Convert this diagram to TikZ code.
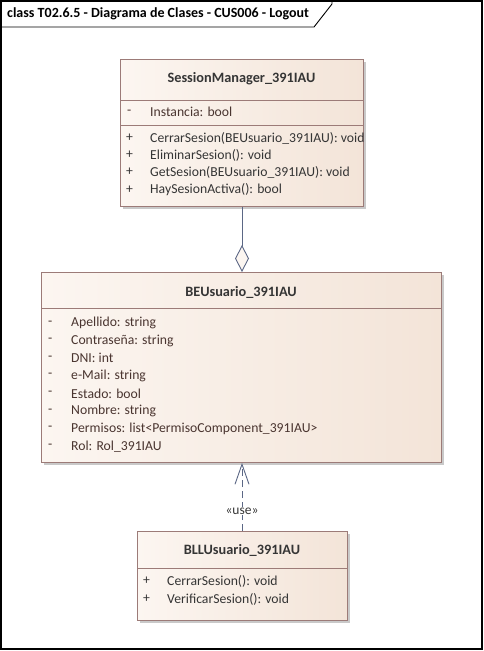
\documentclass[tikz,border=0pt]{standalone}
\usepackage{fontspec}
\setmainfont{Carlito}
\usetikzlibrary{arrows.meta}
\definecolor{edgec}{HTML}{9C7B78}
\definecolor{boxL}{HTML}{FCF6F1}
\definecolor{boxR}{HTML}{F3E4D8}
\definecolor{shadowc}{HTML}{C9C9C9}
\definecolor{linkc}{HTML}{5B6785}
\definecolor{txtc}{HTML}{353535}
\definecolor{attrc}{HTML}{4A3530}
\begin{document}
\begin{tikzpicture}[x=1pt,y=-1pt,
  classbox/.style={draw=edgec, line width=0.9pt, left color=boxL, right color=boxR,
    inner sep=0pt, anchor=north west},
  sepline/.style={draw=edgec, line width=0.9pt},
  cname/.style={font=\fontsize{14.3}{16}\selectfont\bfseries, text=txtc, inner sep=0pt},
  member/.style={font=\fontsize{13.7}{16}\selectfont, text=txtc, anchor=west, inner sep=0pt},
  attr/.style={member, text=attrc},
  link/.style={draw=linkc, line width=0.9pt}]
\useasboundingbox (0,0) rectangle (484,651);

% diagram frame and its name tab
\draw[line width=1.3pt] (1,1) rectangle (482,649);
\draw[line width=0.9pt] (1,27) -- (314,27) -- (332,4) -- (332,1);
\node[font=\fontsize{14}{16}\selectfont\bfseries, anchor=west, inner sep=0pt] (frametitle) at (7,14)
  {class T02.6.5 - Diagrama de Clases - CUS006 - Logout};

% drop shadows
\fill[shadowc] (123,62) rectangle (366,209);
\fill[shadowc] (44,275) rectangle (444,465);
\fill[shadowc] (140,534) rectangle (350,623);

% SessionManager_391IAU
\node[classbox, minimum width=243pt, minimum height=147pt] (sm) at (120,59) {};
\draw[sepline] (120,100) -- (363,100);
\draw[sepline] (120,125) -- (363,125);
\node[cname] (smname) at (241.5,79) {SessionManager\_391IAU};
\node[attr] (sma1v) at (127,112) {-};
\node[attr] (sma1) at (150,112) {Instancia: bool};
\foreach \y/\t [count=\i] in {138/{CerrarSesion(BEUsuario\_391IAU): void},
                             155/{EliminarSesion(): void},
                             172/{GetSesion(BEUsuario\_391IAU): void},
                             190/{HaySesionActiva(): bool}}{
  \node[member] (smm\i v) at (126,\y) {+};
  \node[member] (smm\i) at (150,\y) {\t};
}

% BEUsuario_391IAU
\node[classbox, minimum width=400pt, minimum height=190pt] (be) at (41,272) {};
\draw[sepline] (41,308) -- (441,308);
\node[cname] (bename) at (241,292) {BEUsuario\_391IAU};
\foreach \t [count=\i] in {Apellido: string, Contraseña: string, DNI: int, e-Mail: string,
                           Estado: bool, Nombre: string,
                           Permisos: list<PermisoComponent\_391IAU>, Rol: Rol\_391IAU}{
  \node[attr] (bea\i v) at (48,{323+17.6*(\i-1)}) {-};
  \node[attr] (bea\i) at (71,{323+17.6*(\i-1)}) {\t};
}

% BLLUsuario_391IAU
\node[classbox, minimum width=210pt, minimum height=89pt] (bll) at (137,531) {};
\draw[sepline] (137,568) -- (347,568);
\node[cname] (bllname) at (242,550) {BLLUsuario\_391IAU};
\node[member] (bllm1v) at (143,581) {+};
\node[member] (bllm1) at (167,581) {CerrarSesion(): void};
\node[member] (bllm2v) at (143,599) {+};
\node[member] (bllm2) at (167,599) {VerificarSesion(): void};

% aggregation: SessionManager holds a BEUsuario
\draw[link, -{Diamond[length=27pt, width=14pt, fill=boxL, line width=0.9pt]}]
  (sm.south -| 242,0) -- (be.north -| 242,0);

% dependency: BLLUsuario uses BEUsuario
\draw[link, dash pattern=on 7pt off 4pt, -{Straight Barb[length=20pt, width=14pt, line width=0.9pt]}]
  (bll.north -| 242,0) -- (be.south -| 242,0);
\node[font=\fontsize{13.5}{15}\selectfont, text=txtc, fill=white, inner sep=1pt] (uselbl) at (242,511) {«use»};
\end{tikzpicture}
\end{document}
